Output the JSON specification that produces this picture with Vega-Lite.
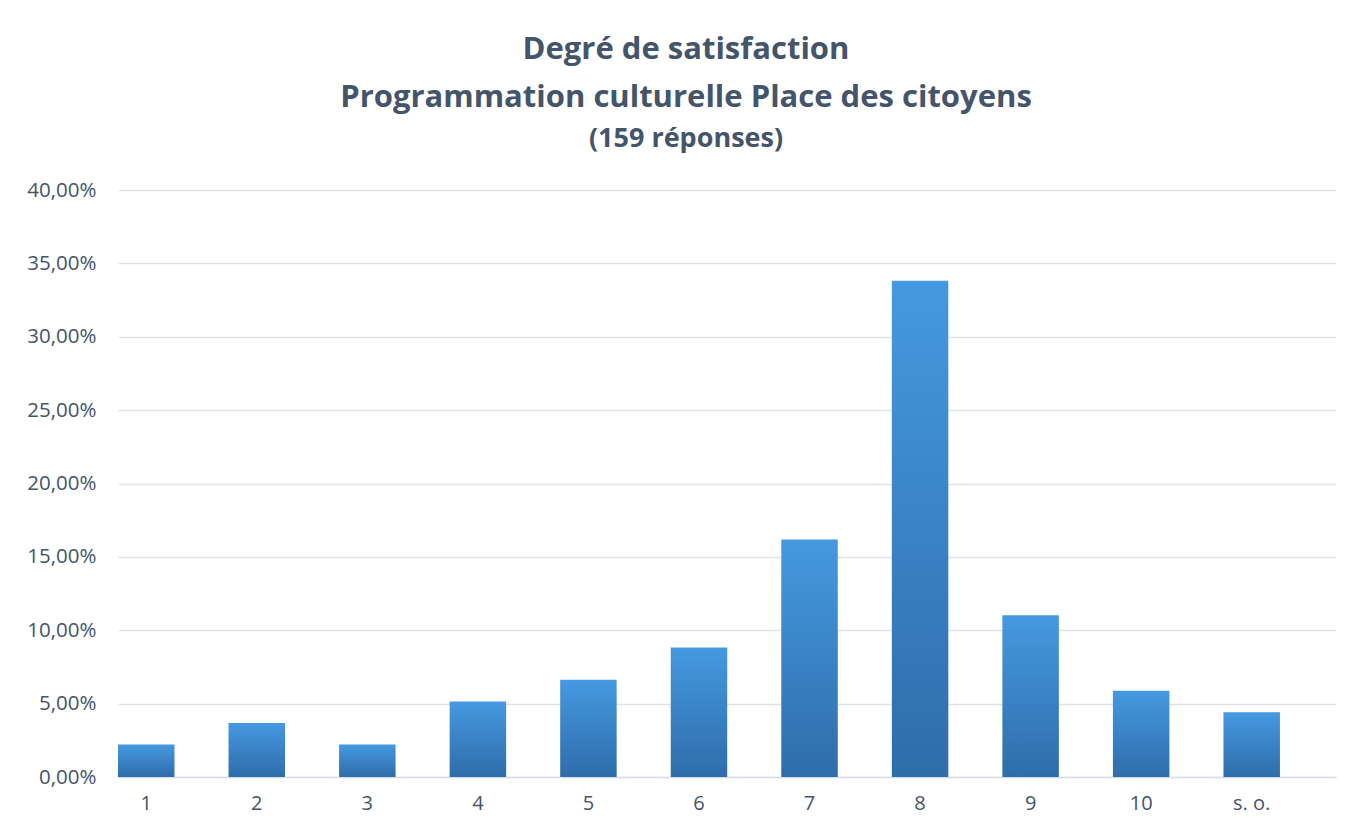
{
  "$schema": "https://vega.github.io/schema/vega-lite/v6.json",
  "width": 1218,
  "height": 587,
  "autosize": "none",
  "padding": {"left": 118, "top": 190, "right": 29, "bottom": 56},
  "background": "white",
  "title": {
    "text": ["Degré de satisfaction", "Programmation culturelle Place des citoyens"],
    "subtitle": "(159 réponses)",
    "anchor": "middle",
    "dx": -41,
    "offset": 27,
    "font": "Open Sans",
    "fontSize": 31,
    "fontWeight": "bold",
    "color": "#44546A",
    "lineHeight": 48,
    "subtitleFont": "Open Sans",
    "subtitleFontSize": 27,
    "subtitleFontWeight": "bold",
    "subtitleColor": "#44546A",
    "subtitlePadding": 12
  },
  "config": {
    "locale": {"number": {"decimal": ",", "thousands": " ", "grouping": [3], "currency": ["", " €"]}},
    "view": {"stroke": null},
    "font": "Open Sans"
  },
  "data": {
    "values": [
      {"note": "1", "pct": 0.0221},
      {"note": "2", "pct": 0.0368},
      {"note": "3", "pct": 0.0221},
      {"note": "4", "pct": 0.0515},
      {"note": "5", "pct": 0.0662},
      {"note": "6", "pct": 0.0882},
      {"note": "7", "pct": 0.1618},
      {"note": "8", "pct": 0.3382},
      {"note": "9", "pct": 0.1103},
      {"note": "10", "pct": 0.0588},
      {"note": "s. o.", "pct": 0.0441}
    ]
  },
  "mark": {
    "type": "bar",
    "color": {
      "gradient": "linear",
      "x1": 0, "y1": 0, "x2": 0, "y2": 1,
      "stops": [
        {"offset": 0, "color": "#4599e0"},
        {"offset": 1, "color": "#2f6daa"}
      ]
    }
  },
  "encoding": {
    "x": {
      "field": "note",
      "type": "nominal",
      "sort": null,
      "scale": {"paddingInner": 0.489, "paddingOuter": 0.2535, "align": 0},
      "axis": {
        "title": null,
        "labelAngle": 0,
        "labelFontSize": 20,
        "labelColor": "#44546A",
        "labelPadding": 16,
        "ticks": false,
        "domain": true,
        "domainColor": "#d9dde5",
        "domainWidth": 1.5
      }
    },
    "y": {
      "field": "pct",
      "type": "quantitative",
      "scale": {"domain": [0, 0.4]},
      "axis": {
        "title": null,
        "format": ".2%",
        "values": [0, 0.05, 0.1, 0.15, 0.2, 0.25, 0.3, 0.35, 0.4],
        "labelFontSize": 20.5,
        "labelColor": "#44546A",
        "labelPadding": 22,
        "ticks": false,
        "domain": false,
        "gridColor": "#dfe3e9",
        "gridWidth": 1.5
      }
    }
  }
}
